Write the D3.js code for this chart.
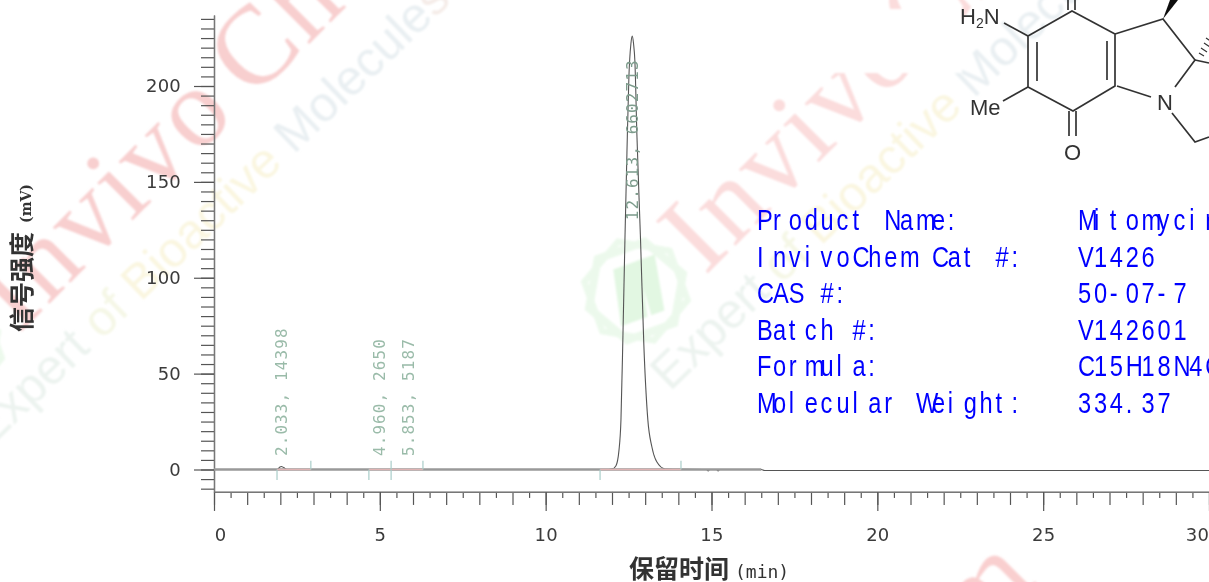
<!DOCTYPE html>
<html>
<head>
<meta charset="utf-8">
<script src="https://cdn.jsdelivr.net/npm/d3@7"></script>
<style>
  html, body { margin: 0; padding: 0; background: #fff; overflow: hidden; }
  svg { display: block; }
</style>
</head>
<body>
<svg id="chart" width="1209" height="582"></svg>
<script>
// chromatogram trace
const traceTime = [0, 1.9, 1.98, 2.03, 2.1, 2.2, 11.9, 12.0, 12.12, 12.21, 12.27, 12.33, 12.39, 12.45, 12.51, 12.57, 12.61, 12.65, 12.69, 12.75, 12.86, 12.96, 13.08, 13.2, 13.35, 13.6, 14.85, 14.9, 14.95, 15.15, 15.2, 15.25, 16.5, 16.6, 30];
const traceValue = [0, 0, 1.2, 1.6, 1, 0, 0, 0.2, 2, 10, 25.8, 70, 120, 165, 205, 222, 226, 222, 213, 175, 120, 65, 26, 12, 4, 0.3, 0, -0.8, 0, 0, -0.8, 0, 0, -0.5, -0.5];

const peakTime = [2.033, 4.96, 5.853, 12.613];
const peakArea = [14398, 2650, 5187, 6602713];
const peakLabelStart = [7, 7, 7, 130];

const integStart = [1.9, 4.67, 5.34, 11.64];
const integEnd = [2.92, 5.34, 6.3, 14.08];

const xTicks = [0, 5, 10, 15, 20, 25, 30];
const yTicks = [0, 50, 100, 150, 200];

const infoLabels = ["Product Name:", "InvivoChem Cat #:", "CAS #:", "Batch #:", "Formula:", "Molecular Weight:"];
const infoValues = ["Mitomycin C", "V1426", "50-07-7", "V142601", "C15H18N4O5", "334.37"];

const svg = d3.select("#chart");
const x = d3.scaleLinear().domain([0, 30]).range([214, 1209]);
const y = d3.scaleLinear().domain([0, 200]).range([469.5, 86]);

const defs = svg.append("defs");
defs.append("filter").attr("id", "soft").append("feGaussianBlur").attr("stdDeviation", 0.45);
defs.append("filter").attr("id", "softer").append("feGaussianBlur").attr("stdDeviation", 0.8);

// watermarks
const wm = svg.append("g").attr("filter", "url(#softer)");
const logo = (cx, cy) => {
  const g = wm.append("g").attr("transform", `translate(${cx},${cy}) rotate(-20)`)
      .attr("fill", "none").attr("stroke", "#ecf9ec");
  const hex = d3.range(6).map(i => [50 * Math.cos(i * Math.PI / 3), 50 * Math.sin(i * Math.PI / 3)].join(","));
  g.append("polygon").attr("points", hex.join(" ")).attr("stroke-width", 8);
  g.append("polygon").attr("points", hex.join(" ")).attr("stroke-width", 6).attr("transform", "rotate(30) scale(1.05)");
  g.append("path").attr("d", "M-14,-28L14,-28L2,28L-26,28Z M10,-28L30,-28L20,28L6,28Z").attr("fill", "#e2f7e2").attr("stroke", "none");
};
logo(636, 291);
logo(-50, 349);

const paleText = (tx, ty) => {
  const t = wm.append("text").attr("transform", `translate(${tx},${ty}) rotate(-44)`)
      .attr("font-family", "Liberation Sans").attr("font-size", 49);
  t.append("tspan").attr("fill", "#ecf3ef").text("Expert ");
  t.append("tspan").attr("fill", "#f5f7e6").text("of ");
  t.append("tspan").attr("fill", "#faf6e0").text("Bioactive ");
  t.append("tspan").attr("fill", "#e9eff2").text("Molecule");
  t.append("tspan").attr("fill", "#f5ece8").text("s");
};
paleText(-10, 448);
paleText(670, 392);

const redText = (tx, ty, anchor, col, gap) => {
  const t = wm.append("text")
      .attr("transform", `translate(${tx},${ty}) rotate(-45)`)
      .attr("font-family", "Liberation Serif").attr("font-size", 112).attr("letter-spacing", 3)
      .attr("text-anchor", anchor).attr("fill", col);
  t.append("tspan").text("Invivo");
  t.append("tspan").attr("dx", gap).text("Chem");
};
redText(19, 334, "start", "#f8cfcf", 20);
redText(705, 276, "start", "#fbdcdc", 0);
redText(1040, 580, "end", "#f9cfcf", 0);
wm.append("rect").attr("x", 800).attr("y", 9).attr("width", 162).attr("height", 64).attr("fill", "#fff");

// chart
const chart = svg.append("g").attr("filter", "url(#soft)");

const styleAxis = sel => {
  sel.selectAll("path.domain").attr("stroke", "#777").attr("stroke-width", 1.3);
  sel.selectAll(".tick line").attr("stroke", "#555").attr("stroke-width", 1.2);
  sel.selectAll("text").attr("fill", "#3a3a3a").attr("font-family", "DejaVu Sans")
      .attr("font-size", 18).attr("letter-spacing", 0.2);
};

const xBase = y(-11.7);
const everyHalf = d3.range(0, 30.5, 0.5);
chart.append("g").attr("transform", `translate(0,${xBase})`)
    .call(d3.axisBottom(x).tickValues(everyHalf.filter(d => d % 1 !== 0)).tickSize(6).tickFormat("").tickSizeOuter(0))
    .call(styleAxis);
chart.append("g").attr("transform", `translate(0,${xBase})`)
    .call(d3.axisBottom(x).tickValues(everyHalf.filter(d => d % 1 === 0)).tickSize(13).tickFormat("").tickSizeOuter(0))
    .call(styleAxis);
const xAxis = chart.append("g").attr("transform", `translate(0,${xBase})`)
    .call(d3.axisBottom(x).tickValues(xTicks).tickSize(19).tickPadding(17).tickSizeOuter(0))
    .call(styleAxis);
xAxis.selectAll(".tick text").filter(d => d === 0).attr("dx", 6);
xAxis.selectAll(".tick text").filter(d => d === 30).attr("dx", -12);

const yMinor = d3.range(-10, 240, 5);
const yScaleFull = y.copy().domain([-11.7, 237]).range([y(-11.7), y(237)]);
chart.append("g").attr("transform", "translate(214,0)")
    .call(d3.axisLeft(yScaleFull).tickValues(yMinor).tickSize(13).tickFormat("").tickSizeOuter(0))
    .call(styleAxis);
chart.append("g").attr("transform", "translate(214,0)")
    .call(d3.axisLeft(yScaleFull).tickValues(yTicks).tickSize(20).tickPadding(13).tickSizeOuter(0))
    .call(styleAxis);

const line = d3.line()
    .x((d, i) => x(traceTime[i]))
    .y(d => y(d))
    .curve(d3.curveMonotoneX);
chart.append("path")
    .attr("d", line(traceValue))
    .attr("fill", "none")
    .attr("stroke", "#555")
    .attr("stroke-width", 1.1);

// baseline drawn over the flat part of the trace
chart.append("line")
    .attr("x1", x(0)).attr("x2", x(16.5))
    .attr("y1", y(0)).attr("y2", y(0))
    .attr("stroke", "#999").attr("stroke-width", 2.4);
chart.selectAll(".integ").data(integStart).enter().append("line")
    .attr("class", "integ")
    .attr("x1", d => x(d)).attr("x2", (d, i) => x(integEnd[i]))
    .attr("y1", y(0)).attr("y2", y(0))
    .attr("stroke", "#dfb3b3").attr("stroke-width", 1.4);
chart.selectAll(".mstart").data(integStart).enter().append("line")
    .attr("class", "mstart")
    .attr("x1", d => x(d)).attr("x2", d => x(d))
    .attr("y1", y(0)).attr("y2", y(-5.5))
    .attr("stroke", "#a9cdc9").attr("stroke-width", 1.2);
chart.selectAll(".mend").data(integEnd).enter().append("line")
    .attr("class", "mend")
    .attr("x1", d => x(d)).attr("x2", d => x(d))
    .attr("y1", y(0)).attr("y2", y(4.5))
    .attr("stroke", "#a9cdc9").attr("stroke-width", 1.2);

// peak labels
chart.selectAll(".peak").data(peakTime).enter().append("text")
    .attr("class", "peak")
    .attr("transform", (d, i) => `translate(${x(d) + 6},${y(peakLabelStart[i])}) rotate(-90)`)
    .attr("font-family", "DejaVu Sans Mono")
    .attr("font-size", 16)
    .attr("letter-spacing", 1.1)
    .attr("fill", (d, i) => i === 3 ? "#7d9c8c" : "#9abba9")
    .text((d, i) => `${d3.format(".3f")(d)}, ${peakArea[i]}`);

// axis titles
const xTitle = chart.append("text").attr("x", 629).attr("y", 578).attr("fill", "#333");
xTitle.append("tspan").attr("font-family", "Noto Sans CJK SC").attr("font-weight", 700).attr("font-size", 25).text("保留时间");
xTitle.append("tspan").attr("font-family", "DejaVu Sans Mono").attr("font-size", 18).attr("dx", 6).text("(min)");

const yTitle = chart.append("text").attr("transform", "translate(31,332) rotate(-90)").attr("fill", "#333");
yTitle.append("tspan").attr("font-family", "Noto Sans CJK SC").attr("font-weight", 700).attr("font-size", 25).text("信号强度");
yTitle.append("tspan").attr("font-family", "DejaVu Serif").attr("font-weight", 700).attr("font-size", 14).attr("dx", 9).text("(mV)");

// molecule sketch
const mol = svg.append("g").attr("filter", "url(#soft)").attr("stroke", "#333").attr("stroke-width", 1.7).attr("fill", "none");
const bonds = [
  "M1028,36L1072,11L1115,34L1115,86L1073,111L1028,87Z",
  "M1037,42V81", "M1107,41V80",
  "M1068,0V10", "M1075,0V10",
  "M1069,111V136", "M1076,111V136",
  "M1004,23L1028,36", "M1003,101L1028,87",
  "M1117,86L1151,97", "M1115,34L1163,19L1195,60L1175,87",
  "M1172,113L1195,142L1209,137", "M1195,60L1209,63"
];
mol.selectAll(".bond").data(bonds).enter().append("path").attr("class", "bond").attr("d", d => d);
mol.append("path").attr("d", "M1163,19L1170,0H1178Z").attr("fill", "#111").attr("stroke", "none");
mol.append("path").attr("d", "M1199,53l5,3M1201,48l6,4M1204,43l6,4M1206,38l6,4").attr("stroke-width", 1.2);
const molText = svg.append("g").attr("filter", "url(#soft)").attr("font-family", "Liberation Sans").attr("font-size", 22).attr("fill", "#333");
const h2n = molText.append("text").attr("x", 960).attr("y", 24);
h2n.append("tspan").text("H");
h2n.append("tspan").attr("font-size", 14).attr("dy", 4).text("2");
h2n.append("tspan").attr("dy", -4).text("N");
molText.append("text").attr("x", 970).attr("y", 115).text("Me");
molText.append("text").attr("x", 1157).attr("y", 110).text("N");
molText.append("text").attr("x", 1064).attr("y", 160).text("O");

// product info, narrow glyphs in fixed cells like the original
const pitch = 15.9;
const squeeze = 0.8;
const cells = (s, x0) => Array.from(s, (c, i) => (x0 + i * pitch) / squeeze).join(" ");
const info = svg.append("g")
    .attr("transform", `scale(${squeeze},1)`)
    .attr("font-family", "Liberation Sans")
    .attr("font-size", 29.5)
    .attr("fill", "#0000ff");
info.selectAll(".lab").data(infoLabels).enter().append("text")
    .attr("class", "lab")
    .attr("x", d => cells(d, 757))
    .attr("y", (d, i) => 230.5 + i * 36.5)
    .text(d => d);
info.selectAll(".val").data(infoValues).enter().append("text")
    .attr("class", "val")
    .attr("x", d => cells(d, 1078))
    .attr("y", (d, i) => 230.5 + i * 36.5)
    .text(d => d);
</script>
</body>
</html>
